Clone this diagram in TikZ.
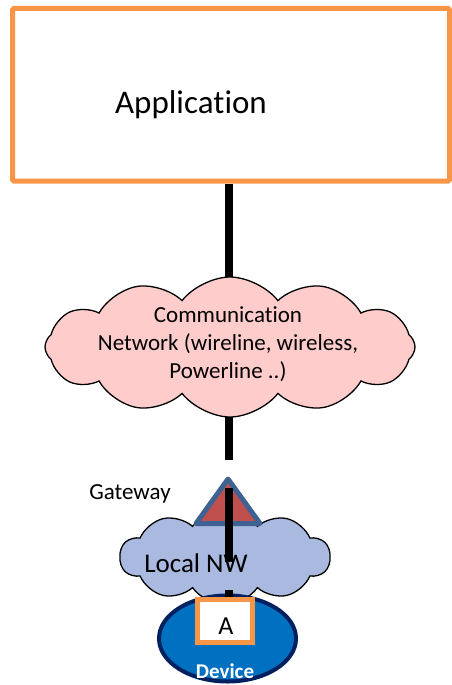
\documentclass[tikz,border=0pt]{standalone}
\usepackage{fontspec}
\setmainfont{Carlito}[Ligatures={NoCommon,NoContextual}]
\usetikzlibrary{shapes.symbols,shapes.geometric}
\definecolor{apporange}{HTML}{F79646}
\definecolor{netpink}{HTML}{FFCCCC}
\definecolor{lanblue}{HTML}{A9B9DF}
\definecolor{gwred}{HTML}{C0504D}
\definecolor{gwedge}{HTML}{3E6291}
\definecolor{devblue}{HTML}{0070C0}
\definecolor{devedge}{HTML}{002060}
\begin{document}
\begin{tikzpicture}[x=1pt,y=-1pt,
  link/.style={line width=8.5pt},
  appbox/.style={draw=apporange, fill=white, line width=5pt, rounded corners=1.5pt, inner sep=0pt},
  cloudbox/.style={cloud, draw=black, line width=1.3pt, inner sep=0pt, cloud ignores aspect},
  gwshape/.style={draw=gwedge, fill=gwred, line width=5pt, line join=round},
  devshape/.style={ellipse, draw=devedge, fill=devblue, line width=4pt, inner sep=0pt},
  abox/.style={draw=apporange, fill=white, line width=5pt, inner sep=0pt},
  lbl/.style={inner sep=0pt, anchor=base}]
\useasboundingbox (0,0) rectangle (451,685);

% application
\node[appbox, minimum width=437pt, minimum height=172.5pt] (app) at (231,94.75) {};
\node[lbl, font=\fontsize{33}{40}\selectfont] (apptext) at (191,113) {Applic\kern0pt ation};

% backbone line through the network cloud
\coordinate (netc) at (229,347);
\coordinate (gwstop) at (229,460);
\draw[link] (app.south -| netc) -- (netc) -- (gwstop);

% communication network
\node[cloudbox, fill=netpink, cloud puffs=12, cloud puff arc=105,
      minimum width=370pt, minimum height=140pt] (net) at (230,347) {};
\node[inner sep=0pt, align=center, font=\fontsize{23}{28}\selectfont] (nettext) at (228,344)
  {Communication\\Network (wireline, wireless,\\Powerline ..)};

% local network cloud
\node[cloudbox, fill=lanblue, cloud puffs=10, cloud puff arc=110,
      minimum width=210pt, minimum height=95pt] (lan) at (225,557) {};

% gateway
\coordinate (gw) at (228,508);
\draw[gwshape] (228,479) -- (196,523.5) -- (260,523.5) -- cycle;
\node[lbl, font=\fontsize{23}{28}\selectfont] (gwtext) at (130,499) {Gateway};

\coordinate (l3a) at (229,488);
\coordinate (l3b) at (229,562);
\draw[link] (l3a) -- (l3b);
\node[lbl, font=\fontsize{27}{32}\selectfont] (lantext) at (196,572) {Local NW};

% device
\node[devshape, minimum width=137pt, minimum height=86pt] (dev) at (227.5,638.5) {};
\coordinate (l4a) at (229,590);
\node[abox, minimum width=55pt, minimum height=43pt] (a) at (225,621) {};
\draw[link] (l4a) -- (l4a |- a.north);
\node[abox, minimum width=55pt, minimum height=43pt] at (a) {};
\node[lbl, font=\fontsize{26}{30}\selectfont] (atext) at (226,634) {A};
\node[lbl, font=\bfseries\fontsize{21}{25}\selectfont, text=white] (devtext) at (225,678.5) {Device};
\end{tikzpicture}
\end{document}
